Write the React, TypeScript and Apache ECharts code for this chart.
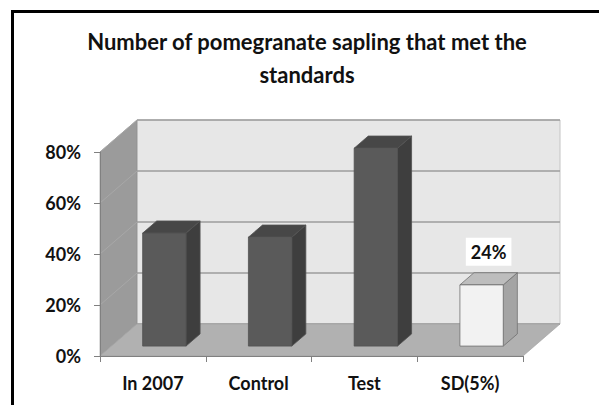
import React, { useEffect, useRef } from 'react';
import * as echarts from 'echarts';

// ---- data ----
const categories = ['In 2007', 'Control', 'Test', 'SD(5%)'];
const values = [44.3, 42.7, 77.6, 24];
const yTicks = [0, 20, 40, 60, 80];
const labeledBars = [3];
const lightBars = [3];
const titleText = 'Number of pomegranate sapling that met the\nstandards';

// ---- style constants ----
const DX = 37;
const DY = -32;
const BAR_FRONT = 0.31;
const BAR_BACK = 0.69;
const BAR_WIDTH = 0.41;
const FONT = 'Lato, "Open Sans", sans-serif';
const DARK = { front: '#5a5a5a', side: '#3e3e3e', top: '#474747', stroke: '#525252' };
const LIGHT = { front: '#f2f2f2', side: '#a4a4a4', top: '#bdbdbd', stroke: '#707070' };

export default function App() {
  const ref = useRef<HTMLDivElement>(null);
  useEffect(() => {
    if (!ref.current) return;
    const chart = echarts.init(ref.current, undefined, { renderer: 'svg' });
    const option: any = {
      animation: false,
      backgroundColor: '#ffffff',
      title: {
        text: titleText,
        left: 302,
        top: 20,
        textAlign: 'center',
        textStyle: { fontFamily: FONT, fontWeight: 'bold', fontSize: 22, lineHeight: 33, color: '#111' },
      },
      graphic: [
        {
          type: 'rect',
          shape: { x: 12.5, y: 11.5, width: 700, height: 500 },
          style: { fill: 'none', stroke: '#000', lineWidth: 3 },
          silent: true,
        },
      ],
      grid: { left: 100, right: 76, top: 152, bottom: 49 },
      xAxis: {
        type: 'category',
        data: categories,
        z: 10,
        axisLine: { show: true, lineStyle: { color: '#808080', width: 1 } },
        axisTick: { show: true, length: 6, alignWithLabel: false, lineStyle: { color: '#808080' } },
        axisLabel: { fontFamily: FONT, fontWeight: 'bold', fontSize: 18, color: '#111', margin: 18 },
        splitLine: { show: false },
      },
      yAxis: {
        type: 'value',
        min: 0,
        max: 80,
        interval: 20,
        z: 10,
        axisLine: { show: true, lineStyle: { color: '#808080', width: 1 } },
        axisTick: { show: true, length: 6, lineStyle: { color: '#808080' } },
        axisLabel: { fontFamily: FONT, fontWeight: 'bold', fontSize: 18, color: '#111', margin: 19, formatter: '{value}%' },
        splitLine: { show: false },
      },
      series: [
        {
          type: 'custom',
          name: 'walls',
          z: 1,
          silent: true,
          data: [[0, 0]],
          renderItem: (params: any, api: any) => {
            const cs = params.coordSys;
            const left = cs.x;
            const right = cs.x + cs.width;
            const yOf = (v: number) => api.coord([0, v])[1];
            const y0 = yOf(yTicks[0]);
            const yTop = yOf(yTicks[yTicks.length - 1]);
            const children: any[] = [];
            children.push({
              type: 'polygon',
              shape: { points: [[left + DX, yTop + DY], [right + DX, yTop + DY], [right + DX, y0 + DY], [left + DX, y0 + DY]] },
              style: { fill: '#e7e7e7', stroke: '#c4c4c4', lineWidth: 1 },
            });
            children.push({
              type: 'polygon',
              shape: { points: [[left, yTop], [left + DX, yTop + DY], [left + DX, y0 + DY], [left, y0]] },
              style: { fill: '#9b9b9b', stroke: '#8e8e8e', lineWidth: 0.6 },
            });
            yTicks.forEach((t) => {
              const y = yOf(t);
              children.push({
                type: 'line',
                shape: { x1: left + DX, y1: y + DY, x2: right + DX, y2: y + DY },
                style: { stroke: '#9c9c9c', lineWidth: 1.5 },
              });
              children.push({
                type: 'line',
                shape: { x1: left, y1: y, x2: left + DX, y2: y + DY },
                style: { stroke: '#a8a8a8', lineWidth: 1 },
              });
            });
            children.push({
              type: 'polygon',
              shape: { points: [[left, y0], [right, y0], [right + DX, y0 + DY], [left + DX, y0 + DY]] },
              style: { fill: '#b1b1b1', stroke: '#a0a0a0', lineWidth: 0.6 },
            });
            return { type: 'group', children };
          },
        },
        {
          type: 'custom',
          name: 'bars',
          z: 3,
          data: values.map((v, i) => [i, v]),
          renderItem: (params: any, api: any) => {
            const i = api.value(0);
            const v = api.value(1);
            const base = api.coord([i, 0]);
            const top = api.coord([i, v]);
            const bw = api.size([1, 0])[0] * BAR_WIDTH;
            const pal = lightBars.includes(params.dataIndex) ? LIGHT : DARK;
            const x1 = base[0] - bw / 2 + BAR_FRONT * DX;
            const x2 = x1 + bw;
            const yb = base[1] + BAR_FRONT * DY;
            const yt = top[1] + BAR_FRONT * DY;
            const ddx = (BAR_BACK - BAR_FRONT) * DX;
            const ddy = (BAR_BACK - BAR_FRONT) * DY;
            const children: any[] = [
              {
                type: 'polygon',
                shape: { points: [[x2, yt], [x2 + ddx, yt + ddy], [x2 + ddx, yb + ddy], [x2, yb]] },
                style: { fill: pal.side, stroke: pal.stroke, lineWidth: 0.8 },
              },
              {
                type: 'polygon',
                shape: { points: [[x1, yt], [x1 + ddx, yt + ddy], [x2 + ddx, yt + ddy], [x2, yt]] },
                style: { fill: pal.top, stroke: pal.stroke, lineWidth: 0.8 },
              },
              {
                type: 'polygon',
                shape: { points: [[x1, yt], [x2, yt], [x2, yb], [x1, yb]] },
                style: { fill: pal.front, stroke: pal.stroke, lineWidth: 0.8 },
              },
            ];
            if (labeledBars.includes(params.dataIndex)) {
              children.push({
                type: 'text',
                style: {
                  text: `${v}%`,
                  x: (x1 + x2) / 2 + ddx / 2,
                  y: yt + ddy - 21,
                  align: 'center',
                  verticalAlign: 'middle',
                  fontFamily: FONT,
                  fontWeight: 'bold',
                  fontSize: 18,
                  fill: '#111',
                  backgroundColor: '#ffffff',
                  padding: [5, 5],
                },
              });
            }
            return { type: 'group', children };
          },
        },
      ],
    };
    chart.setOption(option);
    return () => chart.dispose();
  }, []);
  return <div ref={ref} style={{ position: 'fixed', left: 0, top: 0, width: 599, height: 405 }} />;
}
